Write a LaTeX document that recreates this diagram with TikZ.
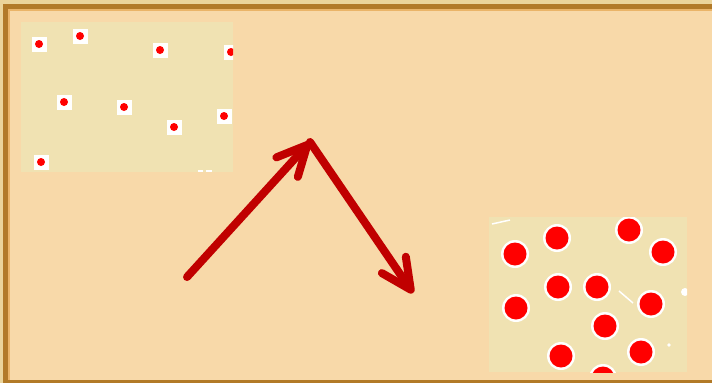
\documentclass[tikz,border=0pt]{standalone}
\usetikzlibrary{arrows.meta}
\definecolor{outerstrip}{HTML}{EBD49A}
\definecolor{framebrown}{HTML}{B27A28}
\definecolor{frameinner}{HTML}{EAB468}
\definecolor{peach}{HTML}{F8D9A9}
\definecolor{panel}{HTML}{F0E2B2}
\definecolor{dotred}{HTML}{FF0000}
\definecolor{arrowred}{HTML}{C00000}
\tikzset{
  smalldot/.style={fill=dotred, draw=none, circle, minimum size=8pt, inner sep=0pt},
  smallhalo/.style={fill=white, draw=none, rectangle, minimum size=15pt, inner sep=0pt},
  bigdot/.style={fill=dotred, draw=none, circle, minimum size=23pt, inner sep=0pt},
  bighalo/.style={fill=white, draw=none, circle, minimum size=28pt, inner sep=0pt},
  bigarrow/.style={draw=arrowred, line width=8pt, line cap=round, line join=round,
    -{Straight Barb[length=30pt,width=29pt,line width=0pt 1,round]}},
}
\begin{document}
\begin{tikzpicture}[x=1pt,y=-1pt]
\useasboundingbox (0,0) rectangle (712,383);
% frame
\fill[outerstrip] (0,0) rectangle (712,383);
\fill[framebrown] (3,4) rectangle (712,383);
\fill[frameinner] (8,9) rectangle (712,380);
\fill[peach] (10,11) rectangle (712,380);
% top-left panel
\fill[panel] (21,22) rectangle (233,172);
\begin{scope}
\clip (21,22) rectangle (233,172);
\foreach \p/\q in {39/44, 80/36, 160/50, 231/52, 64/102, 124/107, 174/127, 224/116, 41/162}{
  \node[smallhalo] at (\p,\q) {};
}
\foreach \p/\q in {39/44, 80/36, 160/50, 231/52, 64/102, 124/107, 174/127, 224/116, 41/162}{
  \node[smalldot] at (\p,\q) {};
}
\fill[white] (198,170) rectangle (203,172);
\fill[white] (206,170) rectangle (212,172);
\end{scope}
% bottom-right panel
\fill[panel] (489,217) rectangle (687,372);
\begin{scope}
\clip (489,217) rectangle (687,372);
\foreach \p/\q in {557/238, 629/230, 515/254, 663/252, 558/287, 597/287, 516/308, 651/304, 605/326, 561/356, 641/352, 603/378}{
  \node[bighalo] at (\p,\q) {};
}
\foreach \p/\q in {557/238, 629/230, 515/254, 663/252, 558/287, 597/287, 516/308, 651/304, 605/326, 561/356, 641/352, 603/378}{
  \node[bigdot] at (\p,\q) {};
}
\draw[white, line width=1.5pt] (492,224) -- (510,220);
\draw[white, line width=1.5pt] (619,291) -- (633,303);
\fill[white] (685,292) circle (4pt);
\fill[white] (669,345) circle (1.8pt);
\end{scope}
% arrows
\coordinate (start) at (187,277);
\coordinate (apex) at (310,142);
\coordinate (finish) at (413,293);
\draw[bigarrow] (start) -- (apex);
\draw[bigarrow] (apex) -- (finish);
\end{tikzpicture}
\end{document}
